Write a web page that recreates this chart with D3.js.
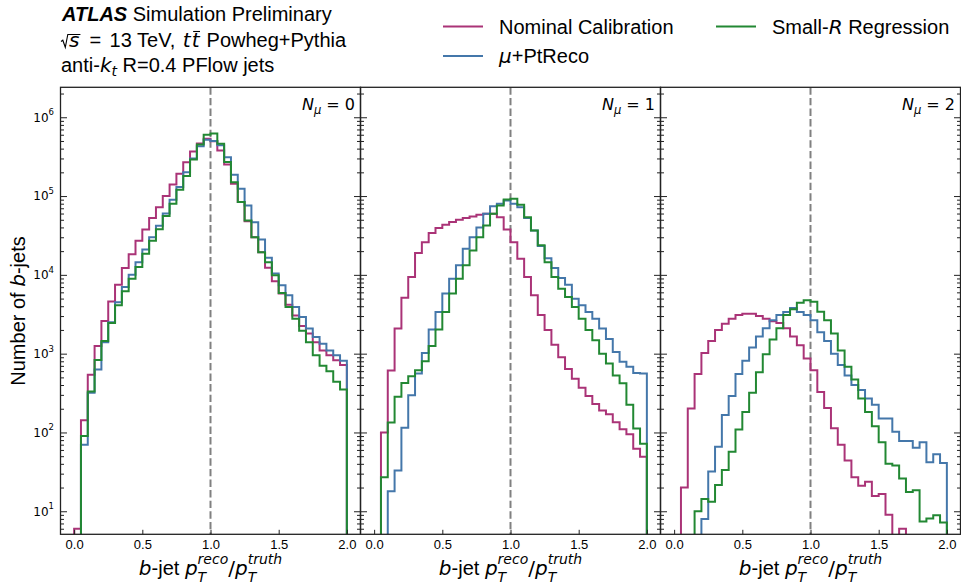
<!DOCTYPE html>
<meta charset="utf-8">
<style>
  body { margin: 0; background: #fff; }
  #chart { font-family: "Liberation Sans", Arial, Helvetica, sans-serif; }
  #chart text, #chart tspan { white-space: pre; }
</style>
<body>
<svg id="chart" width="961" height="586"></svg>
<script src="https://d3js.org/d3.v7.min.js"></script>
<script>

// bin edges of b-jet pT(reco)/pT(truth)
var binEdges = [0.00, 0.05, 0.10, 0.15, 0.20, 0.25, 0.30, 0.35, 0.40, 0.45,
                0.50, 0.55, 0.60, 0.65, 0.70, 0.75, 0.80, 0.85, 0.90, 0.95,
                1.00, 1.05, 1.10, 1.15, 1.20, 1.25, 1.30, 1.35, 1.40, 1.45,
                1.50, 1.55, 1.60, 1.65, 1.70, 1.75, 1.80, 1.85, 1.90, 1.95, 2.00];

var xTicks = [0, 0.5, 1.0, 1.5, 2.0];
var yMajor = [1e1, 1e2, 1e3, 1e4, 1e5, 1e6];
var muLabels = ["0", "1", "2"];

// N_mu = 0
var nominal0 = [6, 143, 540, 1250, 2600, 4600, 7500, 12200, 18200, 27000,
                37700, 52500, 72000, 100000, 140000, 192000, 268000, 367000, 464000, 532000,
                496000, 378000, 251000, 143000, 84000, 48000, 30000, 19400, 12300, 8300,
                5780, 4190, 3060, 2240, 1800, 1400, 1100, 955, 825, 720];
var ptreco0 = [0, 70, 320, 630, 1400, 2500, 4500, 7000, 10000, 14500,
               21000, 30000, 42000, 60000, 90000, 130000, 200000, 300000, 430000, 520000,
               500000, 440000, 310000, 186000, 124000, 76000, 46600, 28000, 16500, 10400,
               7360, 5500, 3900, 2920, 2080, 1630, 1340, 1100, 955, 810];
var smallr0 = [0, 90, 330, 830, 1450, 2450, 4100, 6200, 8900, 12600,
               18500, 27000, 38000, 56000, 80000, 120000, 180000, 290000, 450000, 600000,
               620000, 460000, 270000, 150000, 84000, 49000, 30000, 19400, 14500, 9860,
               5900, 3900, 2780, 1950, 1400, 955, 700, 600, 440, 350];

// N_mu = 1
var nominal1 = [0, 100, 610, 2080, 5140, 9370, 19000, 26000, 34000, 39200,
                43300, 46700, 50000, 52500, 55200, 58000, 59700, 59700, 54000, 37700,
                26000, 16000, 9370, 5500, 3100, 2000, 1300, 900, 640, 480,
                370, 290, 230, 190, 170, 135, 110, 95, 62, 49];
var ptreco1 = [0, 0, 18, 33, 115, 297, 561, 1020, 2020, 3390,
               5780, 8950, 13200, 21500, 30100, 40000, 59600, 74500, 80000, 88000,
               80000, 72000, 52500, 36600, 23200, 16300, 12200, 9100, 7500, 4990,
               4100, 3390, 2780, 2080, 1540, 1050, 790, 680, 570, 560];
var smallr1 = [0, 27, 134, 283, 423, 515, 617, 800, 1250, 2020,
               3390, 5780, 8950, 13200, 20400, 30100, 42400, 59600, 76000, 90500,
               92500, 77500, 54000, 36600, 23700, 14500, 9370, 6680, 5240, 3900,
               2780, 2000, 1480, 1000, 750, 530, 420, 225, 112, 72];

// N_mu = 2
var nominal2 = [0, 20, 201, 550, 1020, 1450, 2000, 2400, 2780, 3100,
                3200, 3200, 3000, 2780, 2580, 2450, 2100, 1650, 1280, 870,
                617, 327, 204, 113, 70, 44, 27, 21, 23.6, 15.6,
                16.5, 9, 0, 6, 0, 0, 0, 0, 0, 0];
var ptreco2 = [0, 0, 0, 0, 8, 32, 66, 166, 290, 550,
               810, 1200, 1650, 2100, 2650, 3100, 3390, 3800, 3390, 3100,
               2650, 1870, 1450, 1000, 720, 530, 400, 346, 270, 225,
               150, 150, 102, 78, 78, 64, 75, 42, 53, 41];
var smallr2 = [0, 0, 0, 10, 14.3, 13.2, 21.5, 33.5, 57, 109,
               182, 318, 580, 980, 1510, 2100, 3100, 3660, 4440, 4750,
               4550, 3400, 2650, 1800, 1100, 680, 470, 270, 182, 120,
               75, 40, 38, 26, 17.5, 18.5, 7.4, 8.1, 8.9, 7.2];

var seriesColors = ["#AA3377", "#4477AA", "#228833"];
var panelData = [[nominal0, ptreco0, smallr0],
                 [nominal1, ptreco1, smallr1],
                 [nominal2, ptreco2, smallr2]];

var panelLefts = [60.5, 360.5, 660.5];
var panelW = 300, plotTop = 87.3, plotBottom = 534.3;
var axisColor = "#222";
var mathFont = "'DejaVu Sans', sans-serif";

var svg = d3.select("#chart");

var y = d3.scaleLog().domain([5.1, 2.4e6]).range([plotBottom, plotTop]);
var minorTicks = y.ticks().filter(function(v) {
  return Math.abs(Math.log10(v) - Math.round(Math.log10(v))) > 1e-6;
});

// ---- text helper: one <text> per label, runs placed as tspans by measuring
// run: t text, s size, i italic, b bold, m math font, dy shift, dx gap, back (stack on previous run)
var meas = svg.append("text").attr("visibility", "hidden");
function runWidth(r) {
  meas.attr("font-size", r.s)
      .attr("font-family", r.m ? mathFont : null)
      .attr("font-style", r.i ? "italic" : "normal")
      .attr("font-weight", r.b ? "bold" : "normal")
      .text(r.t);
  return meas.node().getComputedTextLength();
}
function rich(parent, x, yb, runs, anchor) {
  var cur = 0, prev = 0;
  var placed = runs.map(function(r) {
    var w = runWidth(r) + (r.rad ? 8 : 0);
    var start = r.back ? prev : cur + (r.dx || 0);
    prev = start;
    cur = Math.max(cur, start + w);
    return {r: r, start: start, w: w};
  });
  var off = anchor === "middle" ? -cur / 2 : anchor === "end" ? -cur : 0;
  var txt = parent.append("text").attr("fill", "#000");
  placed.forEach(function(p) {
    var r = p.r, px = x + off + p.start;
    if (r.rad) {
      parent.append("path")
        .attr("d", "M" + px + "," + (yb - 5.5) + "L" + (px + 1.8) + "," + (yb - 6.8) +
                   "L" + (px + 4.3) + "," + (yb + 0.3) + "L" + (px + 6.8) + "," + (yb - 12.5) +
                   "L" + (px + p.w + 1) + "," + (yb - 12.5))
        .attr("fill", "none").attr("stroke", "#000").attr("stroke-width", 1.1);
      px += 8;
    }
    txt.append("tspan")
      .attr("x", px).attr("y", yb + (r.dy || 0))
      .attr("font-size", r.s)
      .attr("font-family", r.m ? mathFont : null)
      .attr("font-style", r.i ? "italic" : "normal")
      .attr("font-weight", r.b ? "bold" : "normal")
      .text(r.t);
    if (r.bar) {
      parent.append("line")
        .attr("x1", px + 1.5).attr("x2", px + p.w + 0.5)
        .attr("y1", yb - 15.5).attr("y2", yb - 15.5)
        .attr("stroke", "#000").attr("stroke-width", 1.1);
    }
  });
}

// ---- panels
panelLefts.forEach(function(x0, p) {
  var x = d3.scaleLinear().domain([-0.1, 2.1]).range([x0, x0 + panelW]);
  var g = svg.append("g");

  g.append("clipPath").attr("id", "clip" + p)
    .append("rect").attr("x", x0).attr("y", plotTop)
    .attr("width", panelW).attr("height", plotBottom - plotTop);

  var plot = g.append("g").attr("clip-path", "url(#clip" + p + ")");

  plot.append("line")
    .attr("x1", x(1)).attr("x2", x(1))
    .attr("y1", plotTop).attr("y2", plotBottom)
    .attr("stroke", "#808080").attr("stroke-width", 2)
    .attr("stroke-dasharray", "7.4,3.2");

  var line = d3.line()
    .x(function(d) { return x(d[0]); })
    .y(function(d) { return d[1] > 0 ? y(d[1]) : plotBottom + 20; });

  panelData[p].forEach(function(vals, s) {
    var pts = [[binEdges[0], 0]];
    vals.forEach(function(v, i) { pts.push([binEdges[i], v], [binEdges[i + 1], v]); });
    pts.push([binEdges[binEdges.length - 1], 0]);
    plot.append("path")
      .attr("d", line(pts))
      .attr("fill", "none")
      .attr("stroke", seriesColors[s])
      .attr("stroke-width", 2)
      .attr("stroke-linejoin", "miter");
  });

  // y ticks on both sides, pointing inward
  function yAxis(axisFn, xpos, vals, size) {
    var a = g.append("g").attr("transform", "translate(" + xpos + ",0)")
      .style("color", axisColor)
      .call(axisFn(y).tickValues(vals).tickSize(size).tickFormat(""));
    a.select(".domain").remove();
    return a;
  }
  yAxis(d3.axisLeft, x0, minorTicks, -3.5);
  yAxis(d3.axisRight, x0 + panelW, minorTicks, -3.5);
  var la = yAxis(d3.axisLeft, x0, yMajor, -6.5);
  yAxis(d3.axisRight, x0 + panelW, yMajor, -6.5);

  if (p === 0) {
    la.call(d3.axisLeft(y).tickValues(yMajor).tickSize(-6.5).tickPadding(6.5)
              .tickFormat(function() { return "10"; }));
    la.select(".domain").remove();
    la.attr("font-family", mathFont).attr("font-size", 12);
    la.selectAll(".tick text").attr("fill", "#000").each(function(d) {
      d3.select(this).append("tspan")
        .attr("font-size", 8.5).attr("dy", "-6.5")
        .text(Math.round(Math.log10(d)));
    });
  }

  var xa = g.append("g").attr("transform", "translate(0," + plotBottom + ")")
    .style("color", axisColor)
    .call(d3.axisBottom(x).tickValues(xTicks).tickSize(-4.5).tickPadding(5.5)
            .tickFormat(d3.format(".1f")));
  xa.select(".domain").remove();
  xa.attr("font-family", null).attr("font-size", 13);
  xa.selectAll(".tick text").attr("fill", "#000");

  // frame
  g.append("rect")
    .attr("x", x0).attr("y", plotTop)
    .attr("width", panelW).attr("height", plotBottom - plotTop)
    .attr("fill", "none").attr("stroke", axisColor).attr("stroke-width", 1.3);

  // N_mu label
  rich(g, x0 + panelW - 5.5, 109.5, [
    {t: "N", s: 16, i: true, m: true},
    {t: "\u03bc", s: 11.5, i: true, m: true, dy: 4},
    {t: " = " + muLabels[p], s: 16, m: true}
  ], "end");

  // x label
  rich(g, x0 + panelW / 2, 575, [
    {t: "b", s: 20, i: true, m: true},
    {t: "-jet ", s: 20},
    {t: "p", s: 20, i: true, m: true},
    {t: "T", s: 14, i: true, m: true, dy: 6.5},
    {t: "reco", s: 14, i: true, m: true, dy: -11, back: true},
    {t: "/", s: 20, m: true},
    {t: "p", s: 20, i: true, m: true},
    {t: "T", s: 14, i: true, m: true, dy: 6.5},
    {t: "truth", s: 14, i: true, m: true, dy: -11, back: true}
  ], "middle");
});

// ---- y label
var yl = svg.append("g").attr("transform", "translate(25,311) rotate(-90)");
rich(yl, 0, 0, [
  {t: "Number of ", s: 20},
  {t: "b", s: 20, i: true, m: true},
  {t: "-jets", s: 20}
], "middle");

// ---- header
var head = svg.append("g");
rich(head, 62, 21, [
  {t: "ATLAS", s: 20, b: true, i: true},
  {t: " Simulation Preliminary", s: 20}
], "start");
rich(head, 61, 47, [
  {t: "s", s: 20, i: true, m: true, rad: true},
  {t: "=", s: 20, dx: 10},
  {t: "13 TeV, ", s: 20, dx: 8.5},
  {t: "t", s: 20, i: true, m: true, dx: 2},
  {t: "t", s: 20, i: true, m: true, bar: true, dx: 1},
  {t: " Powheg+Pythia", s: 20, dx: 1.5}
], "start");
rich(head, 61, 72, [
  {t: "anti-", s: 20},
  {t: "k", s: 20, i: true, m: true},
  {t: "t", s: 14, i: true, m: true, dy: 4},
  {t: " R=0.4 PFlow jets", s: 20}
], "start");

// ---- legend
var legendItems = [
  {x: 443, y: 26.5, color: seriesColors[0], runs: [{t: "Nominal Calibration", s: 20}]},
  {x: 443, y: 56, color: seriesColors[1], runs: [{t: "\u03bc", s: 20, i: true, m: true}, {t: "+PtReco", s: 20}]},
  {x: 716, y: 26.5, color: seriesColors[2], runs: [{t: "Small-", s: 20}, {t: "R", s: 20, i: true, m: true}, {t: " Regression", s: 20}]}
];
var leg = svg.append("g");
legendItems.forEach(function(it) {
  leg.append("line")
    .attr("x1", it.x).attr("x2", it.x + 40)
    .attr("y1", it.y).attr("y2", it.y)
    .attr("stroke", it.color).attr("stroke-width", 2);
  rich(leg, it.x + 56, it.y + 7, it.runs, "start");
});

meas.remove();
</script>
